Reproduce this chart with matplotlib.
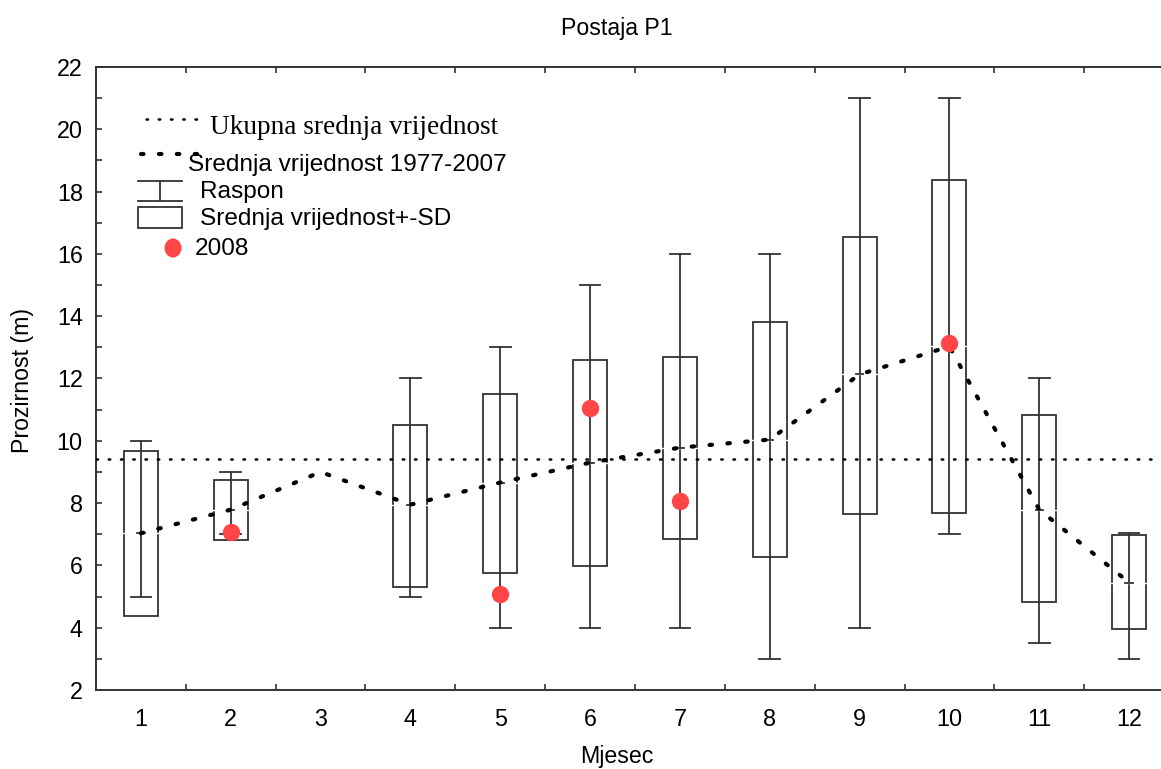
import matplotlib
matplotlib.use("Agg")
import matplotlib.pyplot as plt
from matplotlib.patches import Rectangle, Ellipse
from matplotlib.lines import Line2D

months = [1, 2, 3, 4, 5, 6, 7, 8, 9, 10, 11, 12]
mean_1977_2007 = [7.03, 7.79, 9.0, 7.95, 8.66, 9.3, 9.78, 10.04, 12.13, 13.03, 7.79, 5.45]
range_min = [5, 7, None, 5, 4, 4, 4, 3, 4, 7, 3.5, 3]
range_max = [10, 9, None, 12, 13, 15, 16, 16, 21, 21, 12, 7.03]
sd_low = [4.38, 6.81, None, 5.31, 5.76, 5.99, 6.86, 6.28, 7.66, 7.69, 4.84, 3.95]
sd_high = [9.66, 8.73, None, 10.52, 11.49, 12.58, 12.68, 13.8, 16.53, 18.37, 10.84, 6.96]
months_2008 = [2, 5, 6, 7, 10]
values_2008 = [7.08, 5.09, 11.04, 8.08, 13.13]
overall_mean = 9.43

W, H = 1161, 769
fig = plt.figure(figsize=(W / 100, H / 100), dpi=100)
plt.rcParams['font.family'] = ['Liberation Sans', 'DejaVu Sans']

def fx(px):
    return px / W

def fy(py):
    return 1 - py / H

ax = fig.add_axes([fx(96), fy(690), fx(1174) - fx(96), fy(67) - fy(690)])
ax.set_xlim(0.5, 12.5)
ax.set_ylim(2, 22)

red = '#ff4545'
edge = '#333333'
box_w = 0.38
cap_w = 0.23
mean_dashes = (0.6, 3.7)
dot_dashes = (0.6, 4.3)

for m, lo, hi, blo, bhi, mu in zip(months, range_min, range_max, sd_low, sd_high, mean_1977_2007):
    if lo is None:
        continue
    ax.add_patch(Rectangle((m - box_w / 2, blo), box_w, bhi - blo, fill=False,
                           edgecolor=edge, lw=1.3, zorder=2))
    ax.plot([m, m], [lo, hi], color=edge, lw=1.3, zorder=2)
    ax.plot([m - cap_w / 2, m + cap_w / 2], [lo, lo], color=edge, lw=1.3, zorder=2)
    ax.plot([m - cap_w / 2, m + cap_w / 2], [hi, hi], color=edge, lw=1.3, zorder=2)
    ax.plot([m - box_w / 2 - 0.01, m + box_w / 2 + 0.01], [mu, mu], color='white', lw=1.0, zorder=3)
    ax.plot([m - 0.04, m + 0.04], [mu, mu], color=edge, lw=1.3, zorder=3)

ax.axhline(overall_mean, color='black', lw=1.8, dashes=dot_dashes,
           dash_capstyle='round', zorder=4)
ax.plot(months, mean_1977_2007, color='black', lw=3.0, dashes=mean_dashes,
        dash_capstyle='round', zorder=4)
ax.plot(months_2008, values_2008, 'o', color=red, markersize=12.5, markeredgewidth=0, zorder=5)

# axes styling
for s in ax.spines.values():
    s.set_color(edge)
    s.set_linewidth(1.4)
ax.set_yticks(range(2, 23, 2))
ax.set_yticks(range(3, 22, 2), minor=True)
ax.set_xticks(months)
ax.set_xticks([m + 0.5 for m in months[:-1]], minor=True)
ax.tick_params(axis='y', which='both', direction='in', length=4, width=1.2, color=edge,
               labelsize=16.8, pad=9.5, right=False)
ax.tick_params(axis='x', which='major', length=0, labelsize=16.8, pad=13)
ax.tick_params(axis='x', which='minor', direction='in', length=4, width=1.2, color=edge,
               top=True, bottom=True)

# titles and labels
fig.text(fx(617), fy(28), 'Postaja P1', ha='center', va='center', fontsize=16.7)
fig.text(fx(617), fy(757), 'Mjesec', ha='center', va='center', fontsize=16.7)
fig.text(fx(22), fy(380), 'Prozirnost (m)', ha='center', va='center', fontsize=16.7, rotation=90)

# custom legend
tf = fig.transFigure
fig.add_artist(Line2D([fx(146), fx(197)], [fy(119), fy(119)], transform=tf, color='black',
                      lw=1.8, dashes=dot_dashes, dash_capstyle='round'))
fig.text(fx(210), fy(127), 'Ukupna srednja vrijednost', ha='left', va='center',
         fontsize=19.6, family=['Liberation Serif', 'DejaVu Serif'])
fig.add_artist(Line2D([fx(141), fx(197)], [fy(154), fy(154)], transform=tf, color='black',
                      lw=3.0, dashes=mean_dashes, dash_capstyle='round'))
fig.text(fx(188), fy(165), 'Srednja vrijednost 1977-2007', ha='left', va='center', fontsize=17.6)
fig.add_artist(Line2D([fx(138), fx(182)], [fy(181), fy(181)], transform=tf, color=edge, lw=1.3))
fig.add_artist(Line2D([fx(138), fx(182)], [fy(201), fy(201)], transform=tf, color=edge, lw=1.3))
fig.add_artist(Line2D([fx(160), fx(160)], [fy(181), fy(201)], transform=tf, color=edge, lw=1.3))
fig.text(fx(200), fy(192), 'Raspon', ha='left', va='center', fontsize=17.6)
fig.add_artist(Rectangle((fx(138), fy(228)), fx(182) - fx(138), fy(207) - fy(228), transform=tf,
                         fill=False, edgecolor=edge, lw=1.3))
fig.text(fx(200), fy(219), 'Srednja vrijednost+-SD', ha='left', va='center', fontsize=17.6)
fig.add_artist(Ellipse((fx(173), fy(248)), fx(17), 19 / H, transform=tf, color=red, lw=0))
fig.text(fx(195), fy(249), '2008', ha='left', va='center', fontsize=17.6)

fig.savefig('out.png', dpi=100)
